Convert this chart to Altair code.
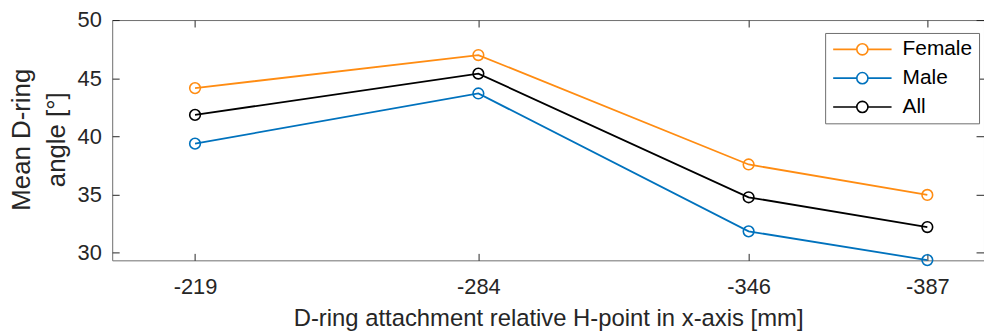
import altair as alt
import pandas as pd

# ---- data ----
x_mm = [-219, -284, -346, -387]
female = [44.15, 46.99, 37.59, 34.97]
male = [39.38, 43.69, 31.84, 29.37]
all_ = [41.85, 45.40, 34.77, 32.21]
groups = ["Female", "Male", "All"]
colors = ["#FF8C12", "#0072BD", "#000000"]
y_ticks = [30, 35, 40, 45, 50]

rows = []
for g, vals in zip(groups, [female, male, all_]):
    for xv, yv in zip(x_mm, vals):
        rows.append({"x": xv, "y": yv, "group": g})
df = pd.DataFrame(rows)

FONT = "Liberation Sans"
TXT = "#262626"
FRAME = "#6e6e6e"

xscale = alt.Scale(domain=[-400, -200], reverse=True, nice=False, zero=False)
yscale = alt.Scale(domain=[29.35, 50], nice=False, zero=False)

# legend glyph: line with an open circle, unit = 7 px
legend_path = ("M-4.2,0L-0.8,0M0.8,0L4.2,0"
               "M-0.8,0A0.8,0.8,0,1,0,0.8,0A0.8,0.8,0,1,0,-0.8,0Z")

color = alt.Color(
    "group:N",
    scale=alt.Scale(domain=groups, range=colors),
    sort=groups,
    legend=alt.Legend(
        title=None, orient="none", legendX=718, legendY=13,
        symbolType=legend_path, symbolSize=196, symbolStrokeWidth=1.6,
        symbolFillColor="transparent", symbolOffset=21,
        labelFont=FONT, labelFontSize=21, labelColor="#000000",
        labelOffset=30, rowPadding=7, padding=6,
        strokeColor=FRAME, fillColor="white", cornerRadius=0,
    ),
)

x_bottom = alt.X(
    "x:Q", scale=xscale,
    axis=alt.Axis(
        orient="bottom", values=x_mm, labelExpr="'' + datum.value",
        offset=-7, tickSize=7,
        domain=False, grid=False, tickColor=TXT, labelFont=FONT,
        labelFontSize=22, labelColor=TXT, labelPadding=16,
        title="D-ring attachment relative H-point in x-axis [mm]",
        titleFont=FONT, titleFontSize=24, titleFontWeight="normal",
        titleColor=TXT, titleBaseline="alphabetic", titleY=73,
    ),
)
y_left = alt.Y(
    "y:Q", scale=yscale,
    axis=alt.Axis(
        orient="left", values=y_ticks, offset=-7, tickSize=7, domain=False,
        grid=False, tickColor=TXT, labelFont=FONT, labelFontSize=22,
        labelColor=TXT, labelPadding=11,
        title=["Mean D-ring", "angle [°]"], titleFont=FONT, titleFontSize=26,
        titleFontWeight="normal", titleColor=TXT, titleBaseline="middle",
        titleLineHeight=35, titleX=-98, titleY=120,
    ),
)
x_top = alt.X(
    "x:Q", scale=xscale,
    axis=alt.Axis(orient="top", values=x_mm, offset=-7, tickSize=7,
                  domain=False, grid=False, labels=False, title=None,
                  tickColor=TXT),
)
y_right = alt.Y(
    "y:Q", scale=yscale,
    axis=alt.Axis(orient="right", values=y_ticks, offset=-8, tickSize=8,
                  domain=False, grid=False, labels=False, title=None,
                  tickColor=TXT),
)

lines = alt.Chart(df).mark_line(strokeWidth=1.8).encode(
    x=x_bottom, y=y_left, color=color, detail="group:N"
)
points = alt.Chart(df).mark_point(filled=False, size=115, strokeWidth=1.6,
                                  opacity=1).encode(
    x=x_top, y=y_right, color=color
)

chart = (
    alt.layer(lines, points)
    .resolve_axis(x="independent", y="independent")
    .properties(
        width=878, height=242,
        autosize=alt.AutoSizeParams(type="none"),
        padding={"left": 113, "top": 19, "right": 0, "bottom": 75},
        background="white",
    )
    .configure_view(stroke=FRAME, strokeWidth=1)
)

chart.save("out.html", embed_options={"renderer": "svg", "actions": False})
